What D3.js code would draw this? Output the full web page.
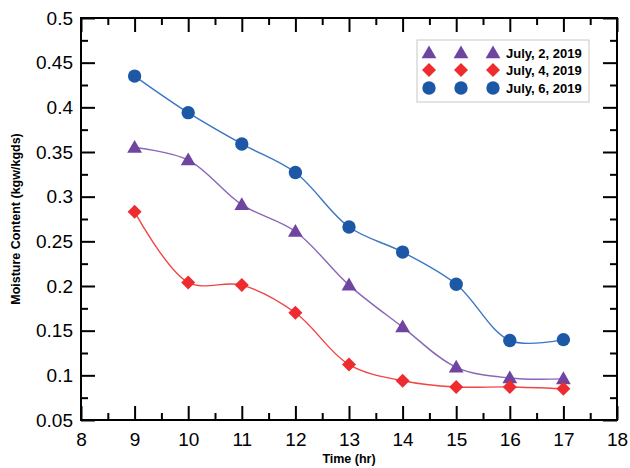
<!DOCTYPE html>
<html><head><meta charset="utf-8">
<script src="https://cdn.jsdelivr.net/npm/d3@7"></script>
<style>body{margin:0;background:#fff}svg{display:block}text{font-family:"Liberation Sans",Arial,sans-serif}</style>
</head><body>
<script>
const hours = [9,10,11,12,13,14,15,16,17];
const july2 = [0.355,0.341,0.291,0.261,0.201,0.154,0.109,0.097,0.096];
const july4 = [0.283,0.204,0.201,0.170,0.112,0.094,0.087,0.087,0.085];
const july6 = [0.435,0.394,0.359,0.327,0.266,0.238,0.202,0.139,0.140];
const seriesNames = ["July, 2, 2019","July, 4, 2019","July, 6, 2019"];
const xTicks = [8,9,10,11,12,13,14,15,16,17,18];
const yTicks = [0.05,0.1,0.15,0.2,0.25,0.3,0.35,0.4,0.45,0.5];

const W=630,H=468;
const L=81,R=617,T=18,B=420;
const svg=d3.select("body").append("svg").attr("width",W).attr("height",H);
const x=d3.scaleLinear().domain([8,18]).range([L,R]);
const y=d3.scaleLinear().domain([0.05,0.5]).range([B,T]);

const styles=[
 {vals:july2, marker:"tri", fill:"#6f45a0", line:"#8a66b8"},
 {vals:july4, marker:"dia", fill:"#ee2b2e", line:"#f04545"},
 {vals:july6, marker:"cir", fill:"#1d58a6", line:"#3a76c4"}
];

// axes
const minorX=d3.range(8.5,18,1), minorY=d3.range(0.075,0.5,0.05);
const fmt=d=>String(+d.toFixed(2));
svg.append("g").attr("transform",`translate(0,${B})`).call(d3.axisBottom(x).tickValues(xTicks).tickSize(-14).tickPadding(8).tickFormat(d3.format("d")))
 .call(g=>{g.select(".domain").remove();g.selectAll("text").attr("font-size",19).attr("dy","0.85em").attr("y",10);});
svg.append("g").attr("transform",`translate(0,${B})`).call(d3.axisBottom(x).tickValues(minorX).tickSize(-7).tickFormat(""))
 .call(g=>g.select(".domain").remove());
svg.append("g").attr("transform",`translate(0,${T})`).call(d3.axisTop(x).tickValues(xTicks).tickSize(-14).tickFormat(""))
 .call(g=>g.select(".domain").remove());
svg.append("g").attr("transform",`translate(0,${T})`).call(d3.axisTop(x).tickValues(minorX).tickSize(-7).tickFormat(""))
 .call(g=>g.select(".domain").remove());
svg.append("g").attr("transform",`translate(${L},0)`).call(d3.axisLeft(y).tickValues(yTicks).tickSize(-14).tickPadding(8).tickFormat(fmt))
 .call(g=>{g.select(".domain").remove();g.selectAll("text").attr("font-size",19).attr("x",-8);});
svg.append("g").attr("transform",`translate(${L},0)`).call(d3.axisLeft(y).tickValues(minorY).tickSize(-7).tickFormat(""))
 .call(g=>g.select(".domain").remove());
svg.append("g").attr("transform",`translate(${R},0)`).call(d3.axisRight(y).tickValues(yTicks).tickSize(-14).tickFormat(""))
 .call(g=>g.select(".domain").remove());
svg.append("g").attr("transform",`translate(${R},0)`).call(d3.axisRight(y).tickValues(minorY).tickSize(-7).tickFormat(""))
 .call(g=>g.select(".domain").remove());
svg.selectAll(".tick line").attr("stroke","#000").attr("stroke-width",2);
svg.selectAll(".tick text").attr("fill","#000");
svg.append("rect").attr("x",L).attr("y",T).attr("width",R-L).attr("height",B-T).attr("fill","none").attr("stroke","#000").attr("stroke-width",2);

// titles
svg.append("text").attr("x",(L+R)/2).attr("y",463).attr("text-anchor","middle").attr("font-weight","bold").attr("font-size",12.5).text("Time (hr)");
svg.append("text").attr("transform",`translate(20,${(T+B)/2}) rotate(-90)`).attr("text-anchor","middle").attr("font-weight","bold").attr("font-size",12.5).text("Moisture Content (kgw/kgds)");

function sym(kind){
  if(kind==="tri") return d3.symbol(d3.symbolTriangle,95)();
  if(kind==="dia") return "M0,-7L7,0L0,7L-7,0Z";
  return d3.symbol(d3.symbolCircle,140)();
}
const line=d3.line().x((d,i)=>x(hours[i])).y(d=>y(d)).curve(d3.curveCatmullRom.alpha(0.5));
styles.forEach(s=>{
  svg.append("path").attr("d",line(s.vals)).attr("fill","none").attr("stroke",s.line).attr("stroke-width",1.4);
});
styles.forEach(s=>{
  svg.append("g").selectAll("path").data(s.vals).join("path")
   .attr("transform",(d,i)=>`translate(${x(hours[i])},${y(d)+(s.marker==="tri"?1:0)})`)
   .attr("d",sym(s.marker)).attr("fill",s.fill);
});

// legend
const lg=svg.append("g");
lg.append("rect").attr("x",417).attr("y",40).attr("width",172).attr("height",62).attr("fill","#fff").attr("stroke","#c8c8c8").attr("stroke-width",1);
const rowsY=[53,70,88];
styles.forEach((s,k)=>{
  [429,461,493].forEach(px=>{
    lg.append("path").attr("transform",`translate(${px},${rowsY[k]+(s.marker==="tri"?1:0)})`).attr("d",sym(s.marker)).attr("fill",s.fill);
  });
  lg.append("text").attr("x",506).attr("y",rowsY[k]).attr("dy","0.36em").attr("font-weight","bold").attr("font-size",13).text(seriesNames[k]);
});
</script>
</body></html>
